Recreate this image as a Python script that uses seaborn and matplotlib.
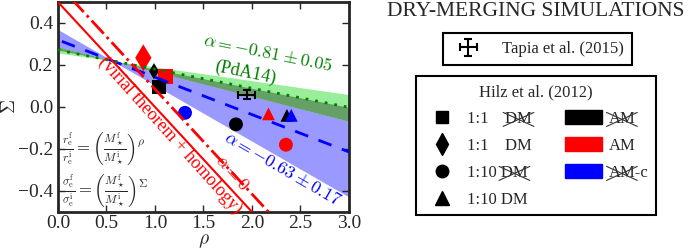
import numpy as np
import pandas as pd
import matplotlib
matplotlib.use('Agg')
import matplotlib.pyplot as plt
from matplotlib.lines import Line2D
from matplotlib.patches import Patch
import seaborn as sns

# simulation points (Hilz et al. 2012)
rho_pts = [0.88, 0.99, 1.11, 1.04, 1.31, 1.835, 2.17, 2.36, 2.405, 2.35]
sig_pts = [0.234, 0.17, 0.146, 0.094, -0.028, -0.083, -0.033, -0.04, -0.04, -0.18]
merger = ['1:1 DM', '1:1 DM', '1:1 noDM', '1:1 noDM', '1:10 noDM',
          '1:10 noDM', '1:10 DM', '1:10 DM', '1:10 DM', '1:10 noDM']
model = ['AM', 'noAM', 'AM', 'noAM', 'AM-c', 'noAM', 'AM', 'noAM', 'AM-c', 'AM']
msize = [190, 70, 110, 110, 100, 100, 85, 85, 85, 100]

# Tapia et al. (2015)
tapia_rho, tapia_rho_err = 1.945, 0.086
tapia_sig, tapia_sig_err = 0.058, 0.021

# relations: all through a common pivot on the virial line
pivot_rho, pivot_sig = 0.56, 0.22
alpha0_intercept = 0.585
green_slope, green_lo, green_hi = -0.091, -0.118, -0.066   # alpha = -0.81 +- 0.05
blue_slope, blue_lo, blue_hi = -0.178, -0.266, -0.091       # alpha = -0.63 +- 0.17

df = pd.DataFrame({'rho': rho_pts, 'Sigma': sig_pts, 'merger': merger,
                   'model': model, 'ms': msize})

sns.set_style('ticks')
plt.rcParams['font.family'] = ['Liberation Serif', 'DejaVu Serif']
plt.rcParams['mathtext.fontset'] = 'cm'

fig = plt.figure(figsize=(6.98, 2.49), dpi=100)
ax = fig.add_axes([0.083, 0.149, 0.417, 0.843])

rr = np.linspace(-0.2, 3.2, 50)
def fan(slope):
    return pivot_sig + slope * (rr - pivot_rho)

ax.fill_between(rr, fan(blue_lo), fan(blue_hi), color='#9999ff', lw=0, zorder=0.5)
ax.fill_between(rr, fan(green_lo), fan(green_hi), color='#99ee99', lw=0, zorder=0.6)
ax.fill_between(rr, fan(green_lo), fan(blue_hi), color='#66a066', lw=0, zorder=0.7)

palette = {'AM': 'red', 'noAM': 'black', 'AM-c': 'blue'}
markers = {'1:1 DM': 'd', '1:1 noDM': 's', '1:10 noDM': 'o', '1:10 DM': '^'}
sns.scatterplot(data=df, x='rho', y='Sigma', hue='model', style='merger',
                size='ms', sizes=(70, 190), palette=palette, markers=markers,
                edgecolor='none', legend=False, ax=ax, zorder=2)

sns.lineplot(x=rr, y=fan(blue_slope), color='blue', lw=2, linestyle=(0, (5, 4)), ax=ax, zorder=3)
sns.lineplot(x=rr, y=fan(green_slope), color='green', lw=2, linestyle=(0, (1, 2.5)), ax=ax, zorder=3)
sns.lineplot(x=rr, y=(1 - rr) / 2, color='red', lw=1.5, ax=ax, zorder=3)
sns.lineplot(x=rr, y=alpha0_intercept - 0.5 * rr, color='red', lw=2, linestyle='-.', ax=ax, zorder=3)

eb = ax.errorbar(tapia_rho, tapia_sig, xerr=tapia_rho_err, yerr=tapia_sig_err,
                 fmt='none', ecolor='black', elinewidth=1.5, capsize=3, capthick=1.5, zorder=4)

ax.text(2.165, 0.254, r'$\alpha = -0.81 \pm 0.05$', color='green', fontsize=13,
        rotation=-11.5, ha='center', va='center', rotation_mode='anchor')
ax.text(1.93, 0.165, '(PdA14)', color='green', fontsize=13,
        rotation=-11.5, ha='center', va='center', rotation_mode='anchor')
ax.text(2.316, -0.297, r'$\alpha = -0.63 \pm 0.17$', color='blue', fontsize=13,
        rotation=-30, ha='center', va='center', rotation_mode='anchor')
ax.text(1.155, -0.137, '(virial theorem + homology)', color='red', fontsize=13,
        rotation=-48, ha='center', va='center', rotation_mode='anchor')
ax.text(1.79, -0.317, r'$\alpha = 0$', color='red', fontsize=13,
        rotation=-48, ha='center', va='center', rotation_mode='anchor')
ax.text(0.04, -0.2, r'$\frac{r_{\rm e}^{\rm f}}{r_{\rm e}^{\rm i}} = \left(\frac{M_\star^{\rm f}}{M_\star^{\rm i}}\right)^\rho$',
        fontsize=12, ha='left', va='center')
ax.text(0.04, -0.4, r'$\frac{\sigma_{\rm e}^{\rm f}}{\sigma_{\rm e}^{\rm i}} = \left(\frac{M_\star^{\rm f}}{M_\star^{\rm i}}\right)^\Sigma$',
        fontsize=12, ha='left', va='center')

ax.set_xlim(0, 3)
ax.set_ylim(-0.5, 0.5)
ax.set_xticks(np.arange(0, 3.01, 0.5))
ax.set_yticks([-0.4, -0.2, 0.0, 0.2, 0.4])
ax.set_xticklabels(['0.0', '0.5', '1.0', '1.5', '2.0', '2.5', '3.0'])
ax.set_yticklabels(['\u22120.4', '\u22120.2', '0.0', '0.2', '0.4'])
ax.tick_params(direction='in', top=True, right=True, labelsize=14, length=5, width=1)
ax.tick_params(axis='x', pad=2)
for s in ax.spines.values():
    s.set_linewidth(2)
ax.set_xlabel(r'$\rho$', fontsize=14)
ax.set_ylabel(r'$\Sigma$', fontsize=14)
ax.xaxis.set_label_coords(0.5, -0.1)
ax.yaxis.set_label_coords(-0.135, 0.5)

fig.text(0.767, 0.952, 'DRY-MERGING SIMULATIONS', fontsize=15.5, ha='center', va='center')

leg1 = fig.legend([eb], ['Tapia et al. (2015)'], loc='center', bbox_to_anchor=(0.770, 0.803),
                  fontsize=12, fancybox=False, edgecolor='black', framealpha=1,
                  handlelength=2.0, handletextpad=1.0, borderpad=0.5, borderaxespad=0)
leg1.get_frame().set_linewidth(1.5)

handles = [Line2D([], [], marker='s', color='k', ls='none', ms=8.5),
           Line2D([], [], marker='d', color='k', ls='none', ms=11),
           Line2D([], [], marker='o', color='k', ls='none', ms=9),
           Line2D([], [], marker='^', color='k', ls='none', ms=9.5),
           Patch(color='black'), Patch(color='red'), Patch(color='blue')]
labels = ['1:1    DM', '1:1    DM', '1:10 DM', '1:10 DM', 'AM', 'AM', 'AM-c']
leg2 = fig.legend(handles, labels, loc='center', bbox_to_anchor=(0.768, 0.414), ncol=2,
                  title='Hilz et al. (2012)', title_fontsize=12, fontsize=12,
                  fancybox=False, edgecolor='black', framealpha=1,
                  handlelength=2.2, handleheight=0.9, handletextpad=0.4,
                  columnspacing=2.0, labelspacing=0.62, borderpad=0.45, borderaxespad=0)
leg2.get_frame().set_linewidth(1.5)

# cross out "DM" / "AM" words in the legend
fig.canvas.draw()
rend = fig.canvas.get_renderer()
W, H = fig.bbox.width, fig.bbox.height

def word_width(word, txt):
    t = fig.text(0, 0, word, fontproperties=txt.get_fontproperties())
    w = t.get_window_extent(rend).width
    t.remove()
    return w

def cross(txt, word, at_end):
    bb = txt.get_window_extent(rend)
    w = word_width(word, txt)
    x0 = bb.x1 - w if at_end else bb.x0
    x1 = x0 + w
    y0, y1 = bb.y0 + 0.5, bb.y1 - 1.5
    for ya, yb in [(y0, y1), (y1, y0)]:
        fig.add_artist(Line2D([(x0 - 2) / W, (x1 + 2) / W], [ya / H, yb / H],
                              transform=fig.transFigure, color='#333333', lw=0.8, zorder=20))

texts = leg2.get_texts()
cross(texts[0], 'DM', True)
cross(texts[2], 'DM', True)
cross(texts[4], 'AM', False)
cross(texts[6], 'AM', False)

fig.savefig('out.png', dpi=100)
